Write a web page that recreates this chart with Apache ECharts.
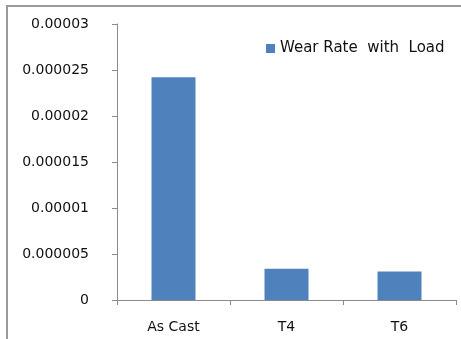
<!DOCTYPE html>
<html>
<head>
<meta charset="utf-8">
<script src="https://cdn.jsdelivr.net/npm/echarts@6/dist/echarts.min.js"></script>
<style>
  html, body { margin: 0; padding: 0; background: #fff; }
  #chart { width: 461px; height: 339px; }
</style>
</head>
<body>
<div id="chart"></div>
<script>
// Wear rate of the alloy under load for each heat-treatment condition
const categories = ['As Cast', 'T4', 'T6'];
const wearRate = [0.0000242, 0.0000034, 0.0000031];
const seriesName = 'Wear Rate  with  Load';
const yTickLabels = ['0', '0.000005', '0.00001', '0.000015', '0.00002', '0.000025', '0.00003'];

const chart = echarts.init(document.getElementById('chart'), null, { renderer: 'canvas' });
const axisGray = '#8c8c8c';
const textColor = '#111';
const font = '"DejaVu Sans", Verdana, sans-serif';

chart.setOption({
  animation: false,
  backgroundColor: '#fff',
  textStyle: { fontFamily: font },
  graphic: [{
    type: 'polyline',
    shape: { points: [[7, 339], [7, 6], [461, 6]] },
    style: { stroke: '#9a9a9a', lineWidth: 2, fill: null },
    silent: true
  }],
  legend: {
    show: true,
    left: 266,
    top: 41,
    padding: 0,
    itemWidth: 9,
    itemHeight: 9,
    icon: 'rect',
    textStyle: { color: textColor, fontSize: 15, fontFamily: font },
    data: [seriesName]
  },
  grid: { left: 117, right: 5, top: 24, bottom: 39, containLabel: false },
  xAxis: {
    type: 'category',
    data: categories,
    axisLine: { lineStyle: { color: axisGray, width: 1 } },
    axisTick: { show: true, length: 5, alignWithLabel: false, lineStyle: { color: axisGray } },
    axisLabel: { color: textColor, fontSize: 14, margin: 20, fontFamily: font },
    splitLine: { show: false }
  },
  yAxis: {
    type: 'value',
    min: 0,
    max: 0.00003,
    interval: 0.000005,
    axisLine: { show: true, lineStyle: { color: axisGray, width: 1 } },
    axisTick: { show: true, length: 5, lineStyle: { color: axisGray } },
    axisLabel: {
      color: textColor,
      fontSize: 14,
      margin: 28,
      fontFamily: font,
      formatter: (v, i) => yTickLabels[i]
    },
    splitLine: { show: false }
  },
  series: [{
    name: seriesName,
    type: 'bar',
    data: wearRate,
    barWidth: 44,
    itemStyle: { color: '#4f81bd' }
  }]
});
</script>
</body>
</html>
